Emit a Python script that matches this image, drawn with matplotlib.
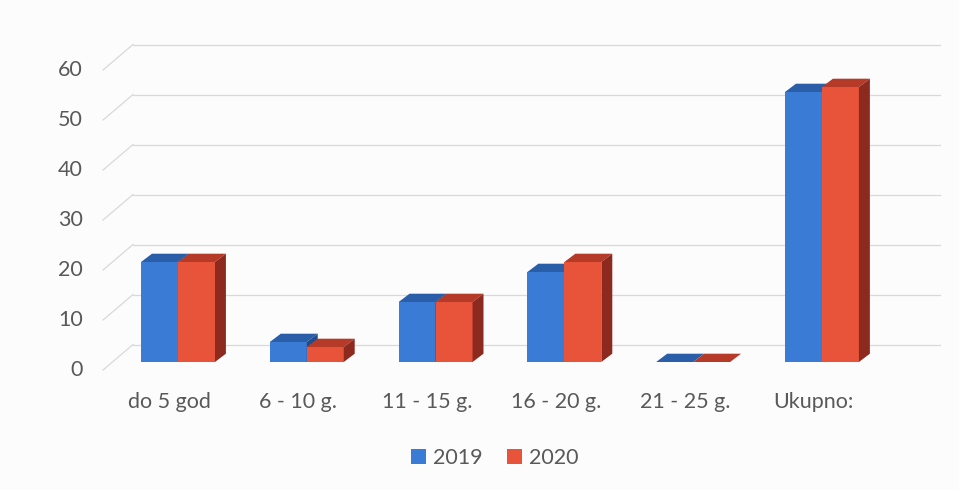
import numpy as np
import matplotlib
matplotlib.use("Agg")
import matplotlib.pyplot as plt
from matplotlib.patches import Polygon, Patch

# Chart data
categories = ["do 5 god", "6 - 10 g.", "11 - 15 g.", "16 - 20 g.", "21 - 25 g.", "Ukupno:"]
series_names = ["2019", "2020"]
values_2019 = [20, 4, 12, 18, 0, 54]
values_2020 = [20, 3, 12, 20, 0, 55]
yticks = [0, 10, 20, 30, 40, 50, 60]

# Face colours (front, top, side) for each series
faces = {
    "2019": ("#3a7bd5", "#2b5ea8", "#224c8a"),
    "2020": ("#e8543a", "#b53a28", "#8c2a1f"),
}

width = 0.287       # one bar, in category units
depth_x = 0.085     # 3D depth offset along x
depth_y = 1.66      # 3D depth offset along y (value units)
wall_dx, wall_dy = 0.233, 5.1   # from front floor edge to back wall
text_color = "#595959"
grid_color = "#d9d9d9"
fsize = 15.5

plt.rcParams["font.family"] = ["Lato", "DejaVu Sans"]

fig = plt.figure(figsize=(9.59, 4.90), dpi=100, facecolor="#fcfcfd")
ax = fig.add_axes([0, 0, 1, 1])
ax.set_facecolor("#fcfcfd")
ax.set_xlim(-1.382, 6.064)
ax.set_ylim(-25.6, 72.4)
ax.axis("off")

# back wall gridlines and the slanted left wall lines
x_front = -0.582
for v in yticks:
    y_front = v - 1.6
    ax.plot([x_front, x_front + wall_dx], [y_front, y_front + wall_dy],
            color=grid_color, lw=0.9, zorder=1)
    ax.plot([x_front + wall_dx, 5.92], [y_front + wall_dy] * 2,
            color=grid_color, lw=0.9, zorder=1)
    ax.text(-0.74, y_front, str(v), ha="right", va="center",
            fontsize=fsize, color=text_color)


def draw_bar(x0, h, front, top, side):
    x1 = x0 + width
    ax.add_patch(Polygon([(x0, 0), (x1, 0), (x1, h), (x0, h)],
                         closed=True, facecolor=front, edgecolor="none", zorder=3))
    ax.add_patch(Polygon([(x0, h), (x1, h), (x1 + depth_x, h + depth_y),
                          (x0 + depth_x, h + depth_y)],
                         closed=True, facecolor=top, edgecolor="none", zorder=3))
    ax.add_patch(Polygon([(x1, 0), (x1 + depth_x, depth_y),
                          (x1 + depth_x, h + depth_y), (x1, h)],
                         closed=True, facecolor=side, edgecolor="none", zorder=3))


x = np.arange(len(categories))
for i in x:
    draw_bar(i - width, values_2019[i], *faces["2019"])
    draw_bar(i, values_2020[i], *faces["2020"])
    ax.text(i - 0.065, -8.0, categories[i], ha="center", va="center",
            fontsize=fsize, color=text_color)

handles = [Patch(facecolor=faces[s][0], edgecolor="none") for s in series_names]
fig.legend(handles, series_names, loc="center", bbox_to_anchor=(0.516, 0.065),
           ncol=2, frameon=False, fontsize=fsize, labelcolor=text_color,
           handlelength=0.7, handleheight=0.7, handletextpad=0.35, columnspacing=1.1)

fig.savefig("out.png", dpi=100, facecolor=fig.get_facecolor())
